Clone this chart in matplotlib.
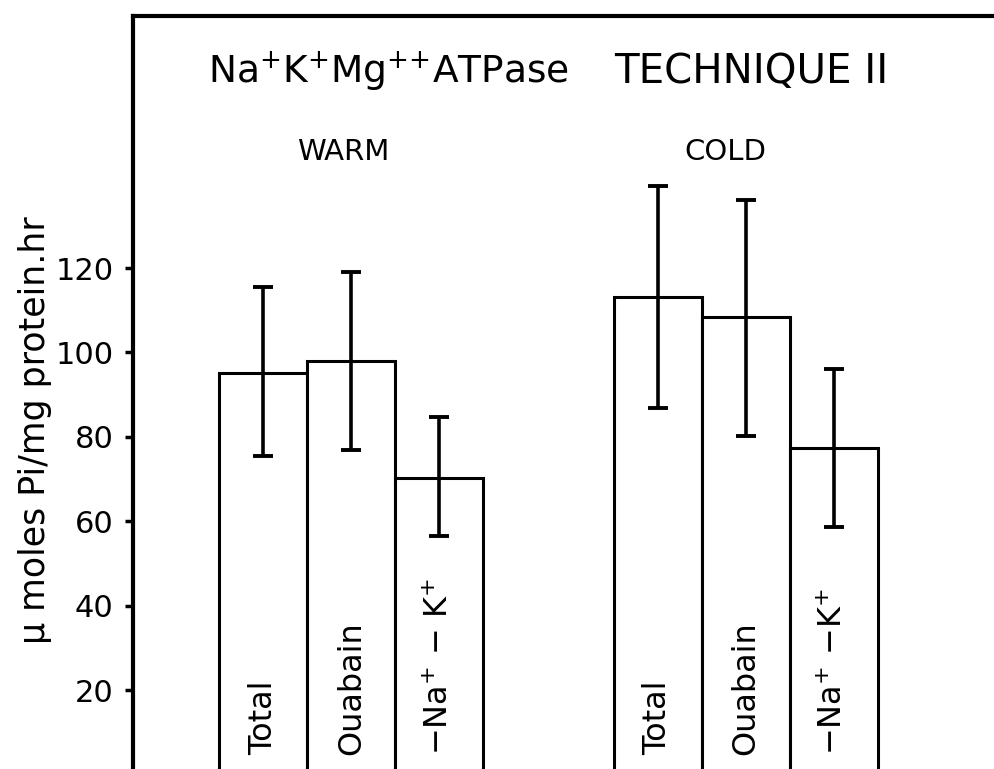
import numpy as np
import matplotlib.pyplot as plt

plt.rcParams['font.family'] = ['DejaVu Sans']
plt.rcParams['mathtext.fontset'] = 'dejavusans'

# values (umoles Pi/mg protein.hr)
bar_names_warm = ['Total', 'Ouabain', r'$-$Na$^{+}$ $-$ K$^{+}$']
bar_names_cold = ['Total', 'Ouabain', r'$-$Na$^{+}$ $-$K$^{+}$']
warm_mean = [95.2, 98.0, 70.3]
warm_low = [75.5, 77.0, 56.6]
warm_high = [115.4, 119.1, 84.8]
cold_mean = [113.1, 108.3, 77.3]
cold_low = [86.9, 80.3, 58.7]
cold_high = [139.5, 136.1, 96.1]
y_ticks = [20, 40, 60, 80, 100, 120]

group_gap = 4.48  # offset of the cold group, in bar widths

fig = plt.figure(figsize=(9.94, 7.69), dpi=100)
ax = fig.add_axes([0.134, 0.0, 0.866, 0.979])

x_warm = np.arange(3)
x_cold = np.arange(3) + group_gap

for xs, mean, low, high, names in [(x_warm, warm_mean, warm_low, warm_high, bar_names_warm),
                                    (x_cold, cold_mean, cold_low, cold_high, bar_names_cold)]:
    mean = np.array(mean)
    err = [mean - np.array(low), np.array(high) - mean]
    ax.bar(xs, mean, width=1.0, color='white', edgecolor='black', linewidth=2.2, zorder=2)
    ax.errorbar(xs, mean, yerr=err, fmt='none', ecolor='black', elinewidth=2.6,
                capsize=7, capthick=2.8, zorder=3)
    for x, name in zip(xs, names):
        ax.text(x, 4.5, name, rotation=90, ha='center', va='bottom', fontsize=23, zorder=4)

ax.set_xlim(-1.477, 8.3)
ax.set_ylim(1.3, 179.7)
ax.set_yticks(y_ticks)
ax.set_xticks([])

ax.spines['right'].set_visible(False)
ax.spines['bottom'].set_visible(False)
ax.spines['left'].set_linewidth(3)
ax.spines['top'].set_linewidth(3)
ax.tick_params(axis='y', direction='out', length=6, width=2.5, labelsize=22, pad=8)

ax.set_ylabel('μ moles Pi/mg protein.hr', fontsize=25)
ax.yaxis.set_label_coords(-0.094, 0.45)

ax.text(0.087, 0.911, r'Na$^{+}$K$^{+}$Mg$^{{+}{+}}$ATPase', transform=ax.transAxes,
        fontsize=27, ha='left', va='baseline')
ax.text(0.559, 0.911, 'TECHNIQUE II', transform=ax.transAxes,
        fontsize=29, ha='left', va='baseline')
ax.text(0.244, 0.809, 'WARM', transform=ax.transAxes, fontsize=21, ha='center', va='baseline')
ax.text(0.688, 0.809, 'COLD', transform=ax.transAxes, fontsize=21, ha='center', va='baseline')

fig.savefig('out.png', dpi=100)
